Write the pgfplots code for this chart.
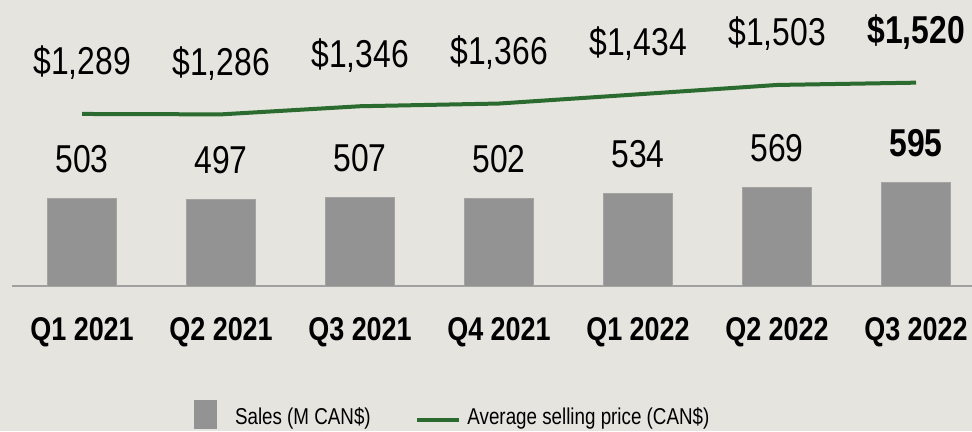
\documentclass[border=0pt]{standalone}
\usepackage{pgfplots}
\pgfplotsset{compat=1.18}
\usepackage{fontspec}
\setmainfont[FakeStretch=0.82]{Liberation Sans}
\definecolor{bg}{HTML}{E5E4DF}
\definecolor{barc}{HTML}{939393}
\definecolor{linec}{HTML}{2C6B2F}
\definecolor{axc}{HTML}{A0A0A0}
\begin{document}
\begin{tikzpicture}[x=1bp,y=1bp]
\fill[bg] (0,0) rectangle (972,431);
\useasboundingbox (0,0) rectangle (972,431);
\begin{axis}[
  at={(12bp,145bp)}, anchor=south west, scale only axis,
  width=960bp, height=286bp,
  xmin=-0.504, xmax=6.403, ymin=0, ymax=1644,
  clip=false,
  axis x line*=bottom, axis y line=none,
  x axis line style={axc, line width=2bp, -},
  xtick={0,1,2,3,4,5,6},
  xticklabels={Q1 2021,Q2 2021,Q3 2021,Q4 2021,Q1 2022,Q2 2022,Q3 2022},
  major tick length=0pt,
  xticklabel style={font=\fontsize{33}{40}\selectfont\bfseries, anchor=base, yshift=-54bp, inner sep=0pt, text=black},
  ytick=\empty,
  legend columns=2,
  legend style={at={(0.1896,-0.4493)}, anchor=west, draw=none, fill=none, inner sep=0pt, outer sep=0pt,
    /tikz/column sep=0pt, nodes={inner sep=0pt, font=\fontsize{23}{28}\selectfont, text=black}},
]
\addplot[ybar, bar width=69bp, fill=barc, draw=barc!85!white, line width=0.8bp,
  nodes near coords, point meta=explicit symbolic,
  every node near coord/.append style={font=\fontsize{39}{47}\selectfont, anchor=base, yshift=26bp, inner sep=0pt, text=black},
  legend image code/.code={\fill[barc, draw=none] (0bp,-12bp) rectangle (23bp,17bp); \path[draw=none, fill=none] (0bp,3bp) -- (41bp,3bp);}
] coordinates {
  (0,503) [503]
  (1,497) [497]
  (2,507) [507]
  (3,502) [502]
  (4,534) [534]
  (5,569) [569]
  (6,595) [\textbf{595}]
};
\addlegendentry{Sales (M CAN\$)}
\addlegendimage{legend image code/.code={\path[draw=none, fill=none] (0bp,3bp) -- (96.7bp,3bp); \draw[linec, line width=4bp] (46.7bp,-3bp) -- (88.3bp,-3bp);}}
\addlegendentry{Average selling price (CAN\$)}
\end{axis}
\begin{axis}[
  at={(12bp,145bp)}, anchor=south west, scale only axis,
  width=960bp, height=286bp,
  xmin=-0.504, xmax=6.403, ymin=19.6, ymax=2130,
  clip=false, hide axis,
]
\addplot[linec, line width=4bp, no markers,
  nodes near coords, point meta=explicit symbolic,
  every node near coord/.append style={font=\fontsize{39}{47}\selectfont, anchor=base, yshift=39bp, inner sep=0pt, text=black}
] coordinates {
  (0,1289) [\$1,289]
  (1,1286) [\$1,286]
  (2,1346) [\$1,346]
  (3,1366) [\$1,366]
  (4,1434) [\$1,434]
  (5,1503) [\$1,503]
  (6,1520) [\textbf{\$1,520}]
};
\end{axis}
\end{tikzpicture}
\end{document}
